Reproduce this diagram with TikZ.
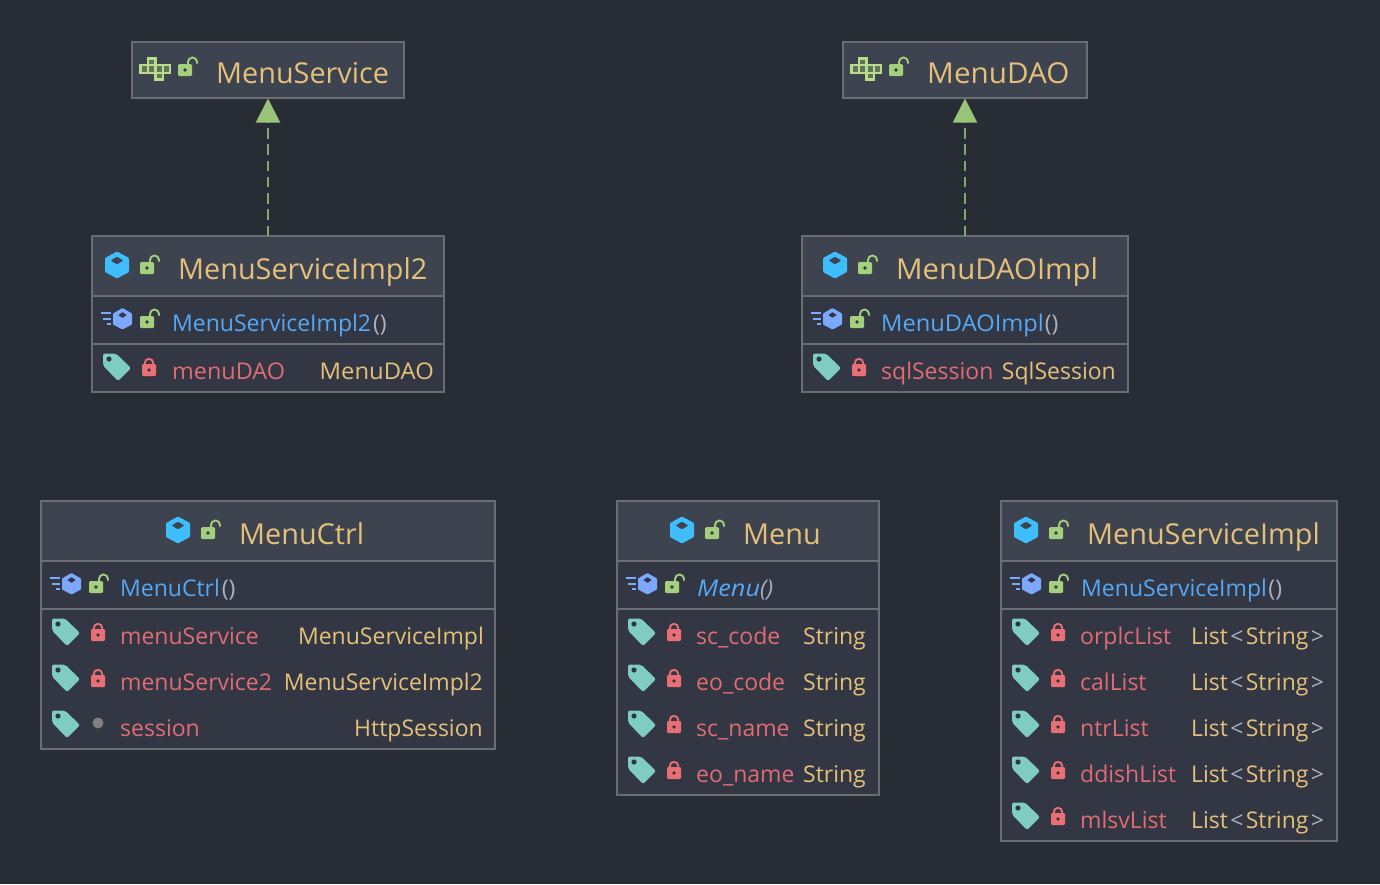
\documentclass[tikz,border=0pt]{standalone}
\usepackage{graphicx}
\usepackage{fontspec}
\setmainfont{Open Sans}
\usetikzlibrary{arrows.meta}
\definecolor{bg}{HTML}{282C34}
\definecolor{hdr}{HTML}{3D434F}
\definecolor{bodyc}{HTML}{323743}
\definecolor{edge}{HTML}{6A6D72}
\definecolor{titlec}{HTML}{E5C07B}
\definecolor{methc}{HTML}{56A8F5}
\definecolor{fieldc}{HTML}{E06C75}
\definecolor{punct}{HTML}{ABB2BF}
\definecolor{arrowc}{HTML}{98C379}
\definecolor{dashc}{HTML}{82A86E}
\definecolor{cubec}{HTML}{40BDFC}
\definecolor{mcube}{HTML}{7CA8FF}
\definecolor{unlockc}{HTML}{A4CF7C}
\definecolor{lockc}{HTML}{EA6F75}
\definecolor{tagc}{HTML}{7FCCC2}
\definecolor{ifacec}{HTML}{B7DE86}
\tikzset{
  x=1pt,y=-1pt,
  ifacebox/.style={fill=hdr,draw=edge,line width=1.1pt,inner sep=0,outer sep=0,anchor=north west,minimum height=56},
  ttl/.style={inner sep=0,anchor=base west,text=titlec,font=\fontsize{28.8}{30}\selectfont},
  meth/.style={inner sep=0,anchor=base west,text=methc,font=\fontsize{23}{24}\selectfont},
  fld/.style={inner sep=0,anchor=base west,text=fieldc,font=\fontsize{23}{24}\selectfont},
  typ/.style={inner sep=0,anchor=base east,text=titlec,font=\fontsize{23}{24}\selectfont},
  typw/.style={inner sep=0,anchor=base west,text=titlec,font=\fontsize{23}{24}\selectfont},
  impl/.style={draw=dashc,line width=2pt,dash pattern=on 10.5pt off 5.75pt,-{Triangle[length=24pt,width=24pt,fill=arrowc,color=arrowc]},shorten >=0.5pt},
}
\newcommand{\cubeicon}[2]{\fill[cubec,even odd rule,rounded corners=1pt,shift={(#1,#2)}] (0,-13.5)--(12,-7)--(12,7)--(0,13.5)--(-12,7)--(-12,-7)--cycle (0,-8.5)--(6.5,-4.5)--(0,-.5)--(-6.5,-4.5)--cycle;}
\newcommand{\methicon}[2]{\begin{scope}[shift={(#1,#2)}]
  \fill[mcube,even odd rule,rounded corners=.8pt] (5.5,-11)--(15,-5.5)--(15,5.5)--(5.5,10.5)--(-4,5.5)--(-4,-5.5)--cycle (5.5,-7)--(10,-4)--(5.5,-1)--(1,-4)--cycle;
  \draw[mcube,line width=2pt] (-16,-6)--(-6,-6) (-14,0)--(-6,0) (-10,5)--(-6,5);
\end{scope}}
\newcommand{\unlockicon}[2]{\begin{scope}[shift={(#1,#2)}]
  \fill[unlockc,rounded corners=1.2pt] (-7,-5.8)rectangle(7,6);
  \fill[bodyc] (0,0) circle (1.8);
  \draw[unlockc,line width=1.9pt] (3,-5.5)--(3,-8) arc[start angle=180,end angle=360,radius=4.5]--(12,-6.5);
\end{scope}}
\newcommand{\lockicon}[2]{\begin{scope}[shift={(#1,#2)}]
  \fill[lockc,rounded corners=1.2pt] (-7,-6)rectangle(7,6);
  \fill[bodyc] (0,0) circle (1.8);
  \draw[lockc,line width=1.9pt] (-4.2,-5.5)--(-4.2,-7) arc[start angle=180,end angle=360,radius=4.2]--(4.2,-5.5);
\end{scope}}
\newcommand{\tagicon}[2]{\begin{scope}[shift={(#1,#2)}]
  \fill[tagc,rounded corners=2pt] (-14,-13.5)--(-1,-13.5)--(14,1)--(1,14)--(-14,-1.5)--cycle;
  \fill[bodyc] (-8,-8) circle (2.6);
\end{scope}}
\newcommand{\ifaceicon}[2]{\begin{scope}[shift={(#1,#2)}]
  \draw[ifacec,line width=2.1pt,fill=hdr!70!ifacec] (-7,-10.5)rectangle(0.5,-3.7) (-14.5,-3.7)rectangle(-7,3.7) (-7,-3.7)rectangle(0.5,3.7) (0.5,-3.7)rectangle(8,3.7) (8,-3.7)rectangle(15,3.7) (0.5,3.7)rectangle(8,10.5);
\end{scope}}
\begin{document}
\begin{tikzpicture}
\useasboundingbox (0,0) rectangle (1380,884);
\fill[bg] (0,0) rectangle (1380,884);
% Interfaces
\node[ifacebox,minimum width=272] (svc) at (132,42) {};
\node[ifacebox,minimum width=244] (dao) at (843,42) {};
\ifaceicon{155}{69}\unlockicon{185}{70}
\node[ttl] (svct) at (216,83) {MenuService};
\ifaceicon{866}{69}\unlockicon{896}{70}
\node[ttl] (daot) at (927,83) {\scalebox{1.03}[1]{MenuDAO}};
% class boxes
\foreach \n/\xa/\ya/\xb/\yb in {a/92/236/444/392,b/802/236/1128/392,c/41/501/495/749,d/617/501/879/795,e/1001/501/1337/841}{
  \fill[bodyc] (\xa,\ya) rectangle (\xb,\yb);
  \fill[hdr] (\xa,\ya) rectangle (\xb,\ya+60);
  \draw[edge,line width=1.3pt] (\xa,\ya+60)--(\xb,\ya+60) (\xa,\ya+108)--(\xb,\ya+108);
  \node[draw=edge,line width=1.1pt,fill=none,inner sep=0,outer sep=0,anchor=north west,minimum width=\xb-\xa,minimum height=\yb-\ya] (box\n) at (\xa,\ya) {};
}
\draw[impl] (boxa.north)--(svc.south);
\draw[impl] (boxb.north)--(dao.south);
% MenuServiceImpl2
\cubeicon{117}{265}\unlockicon{147}{268}
\node[ttl] (t1) at (178,279) {MenuServiceImpl2};
\methicon{117}{319}\unlockicon{147}{322}
\node[meth] (m1) at (172,331) {MenuServiceImpl2\textcolor{punct}{\kern2pt()}};
\tagicon{117}{367}\lockicon{149}{370}
\node[fld] (f1) at (172,379) {\scalebox{1.018}[1]{menuDAO}};
\node[typ] (y1) at (434,379) {\scalebox{1.036}[1]{MenuDAO}};
% MenuDAOImpl
\cubeicon{835}{265}\unlockicon{865}{268}
\node[ttl] (t2) at (896,279) {\scalebox{1.02}[1]{MenuDAOImpl}};
\methicon{827}{319}\unlockicon{857}{322}
\node[meth] (m2) at (881,331) {\scalebox{1.03}[1]{MenuDAOImpl}\textcolor{punct}{\kern1pt()}};
\tagicon{827}{367}\lockicon{859}{370}
\node[fld] (f2) at (881,379) {sqlSession};
\node[typ] (y2) at (1116,379) {SqlSession};
% MenuCtrl
\cubeicon{178}{530}\unlockicon{208}{533}
\node[ttl] (t3) at (239,544) {MenuCtrl};
\methicon{66}{584}\unlockicon{96}{587}
\node[meth] (m3) at (120,596) {MenuCtrl\textcolor{punct}{\kern2pt()}};
\tagicon{66}{632}\lockicon{98}{635}
\node[fld] (f3) at (120,644) {menuService};
\node[typ] (y3) at (484,644) {MenuServiceImpl};
\tagicon{66}{678}\lockicon{98}{681}
\node[fld] (f4) at (120,690) {menuService2};
\node[typ] (y4) at (483,690) {MenuServiceImpl2};
\tagicon{66}{724}\fill[gray] (98,723) circle (5.5);
\node[fld] (f5) at (120,736) {session};
\node[typ] (y5) at (483,736) {HttpSession};
% Menu
\cubeicon{682}{530}\unlockicon{712}{533}
\node[ttl] (t4) at (743,544) {Menu};
\methicon{642}{584}\unlockicon{672}{587}
\node[meth] (m4) at (697,596) {\itshape\scalebox{1.1}[1]{Menu}\textcolor{punct}{()}};
\foreach \yy/\nm/\k in {632/sc\_code/1,678/eo\_code/2,724/sc\_name/3,770/eo\_name/4}{
  \tagicon{642}{\yy}\lockicon{674}{\yy+3}
  \node[fld] (g\k) at (696,\yy+12) {\nm};
  \node[typ] (h\k) at (866,\yy+12) {String};
}
% MenuServiceImpl
\cubeicon{1026}{530}\unlockicon{1056}{533}
\node[ttl] (t5) at (1087,544) {MenuServiceImpl};
\methicon{1026}{584}\unlockicon{1056}{587}
\node[meth] (m5) at (1081,596) {MenuServiceImpl\textcolor{punct}{\kern1.5pt()}};
\foreach \yy/\nm/\k in {632/orplcList/1,678/calList/2,724/ntrList/3,770/ddishList/4,816/mlsvList/5}{
  \tagicon{1026}{\yy}\lockicon{1058}{\yy+3}
  \node[fld] (p\k) at (1080,\yy+12) {\nm};
  \node[typw] (q\k) at (1191,\yy+12) {List\textcolor{punct}{\kern2.3pt<\kern2.3pt}String\textcolor{punct}{\kern2.3pt>}};
}
\end{tikzpicture}
\end{document}
